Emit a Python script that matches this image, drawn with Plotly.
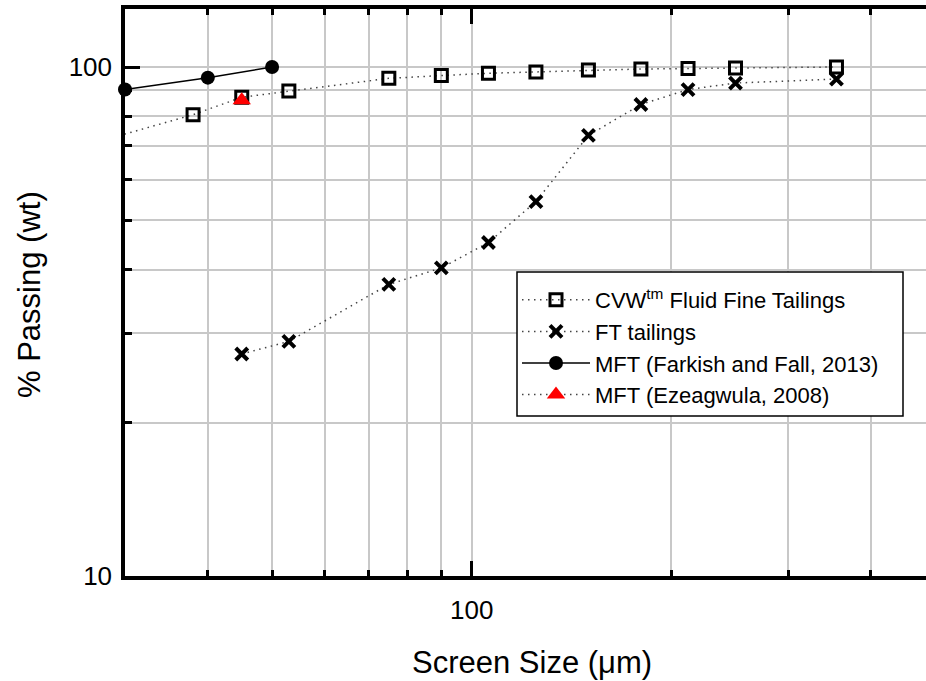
import math
import plotly.graph_objects as go

# Screen sizes (µm) and cumulative % passing by weight
cvw_size = [25, 38, 45, 53, 75, 90, 106, 125, 150, 180, 212, 250, 355]
cvw_pass = [69.0, 80.6, 87.2, 89.7, 95.0, 96.2, 97.2, 97.8, 98.6, 99.1, 99.3, 99.6, 100.0]

ft_size = [45, 53, 75, 90, 106, 125, 150, 180, 212, 250, 355]
ft_pass = [27.3, 28.9, 37.4, 40.3, 45.2, 54.4, 73.4, 84.4, 90.3, 93.0, 94.7]

farkish_size = [30, 40, 50]
farkish_pass = [90.3, 95.3, 100.0]

ezeagwula_size = [45]
ezeagwula_pass = [86.0]

x_minor_ticks = [40, 50, 60, 70, 80, 90, 200, 300, 400]
y_minor_ticks = [20, 30, 40, 50, 60, 70, 80, 90]

FONT = "Liberation Sans, Arial, sans-serif"
GRID = "#c8c8c8"
DOT = "1.5px,4.5px"

W, H = 926, 681
ML, MR, MT, MB = 125, 0, 9, 105
plot_w = W - ML - MR
plot_h = H - MT - MB
px_per_decade_x = 663.0

x_lo = math.log10(30)
x_hi = x_lo + plot_w / px_per_decade_x
y_lo, y_hi = 1.0, math.log10(130)


def px_to_paper_x(px):
    return (px - ML) / plot_w


def px_to_paper_y(py):
    return (H - MB - py) / plot_h


fig = go.Figure()

fig.add_trace(go.Scatter(
    x=cvw_size, y=cvw_pass, mode="lines+markers",
    name="CVW<sup>tm</sup> Fluid Fine Tailings",
    line=dict(color="#444444", width=1.5, dash=DOT),
    marker=dict(symbol="square-open", size=12, color="black",
                line=dict(width=3, color="black")),
))

fig.add_trace(go.Scatter(
    x=ft_size, y=ft_pass, mode="lines+markers",
    name="FT tailings",
    line=dict(color="#444444", width=1.5, dash=DOT),
    marker=dict(symbol="x-thin", size=12, color="black",
                line=dict(width=4, color="black")),
))

fig.add_trace(go.Scatter(
    x=farkish_size, y=farkish_pass, mode="lines+markers",
    name="MFT (Farkish and Fall, 2013)",
    line=dict(color="black", width=1.5),
    marker=dict(symbol="circle", size=14, color="black"),
    cliponaxis=False,
))

fig.add_trace(go.Scatter(
    x=ezeagwula_size, y=ezeagwula_pass, mode="lines+markers",
    name="MFT (Ezeagwula, 2008)",
    line=dict(color="#444444", width=1.5, dash=DOT),
    marker=dict(symbol="triangle-up", size=16, color="#ff0000"),
))

axis_common = dict(
    showline=True, linecolor="black", linewidth=3.5,
    ticks="inside", ticklen=15, tickwidth=2.5, tickcolor="black",
    showgrid=True, gridcolor=GRID, gridwidth=1.5,
    zeroline=False,
    tickfont=dict(family=FONT, size=26, color="black"),
)

fig.update_xaxes(
    type="log", range=[x_lo, x_hi],
    tickmode="array", tickvals=[100], ticktext=["100"],
    mirror="ticks", ticklabelstandoff=8,
    minor=dict(tickmode="array", tickvals=x_minor_ticks, ticks="inside",
               ticklen=6, tickwidth=3, tickcolor="black",
               showgrid=True, gridcolor=GRID, gridwidth=1.5),
    **axis_common,
)

fig.update_yaxes(
    type="log", range=[y_lo, y_hi],
    tickmode="array", tickvals=[10, 100], ticktext=["10", "100"],
    ticklabelstandoff=4,
    minor=dict(tickmode="array", tickvals=y_minor_ticks, ticks="inside",
               ticklen=7, tickwidth=3, tickcolor="black",
               showgrid=True, gridcolor=GRID, gridwidth=1.5),
    **axis_common,
)

# Legend frame
fig.add_shape(
    type="rect", xref="paper", yref="paper", layer="above",
    x0=px_to_paper_x(517), x1=px_to_paper_x(903),
    y0=px_to_paper_y(416), y1=px_to_paper_y(272),
    fillcolor="white", line=dict(color="black", width=1.5),
)

fig.add_annotation(
    text="Screen Size (\u03bcm)", xref="paper", yref="paper",
    x=px_to_paper_x(532), y=px_to_paper_y(662),
    xanchor="center", yanchor="middle", showarrow=False,
    font=dict(family=FONT, size=31, color="black"),
)
fig.add_annotation(
    text="% Passing (wt)", xref="paper", yref="paper",
    x=px_to_paper_x(29), y=px_to_paper_y(295),
    xanchor="center", yanchor="middle", textangle=-90, showarrow=False,
    font=dict(family=FONT, size=31, color="black"),
)

fig.update_layout(
    width=W, height=H,
    margin=dict(l=ML, r=MR, t=MT, b=MB, pad=0),
    paper_bgcolor="white", plot_bgcolor="white",
    font=dict(family=FONT, color="black"),
    legend=dict(
        x=px_to_paper_x(517), y=px_to_paper_y(279),
        xanchor="left", yanchor="top",
        bgcolor="rgba(0,0,0,0)", borderwidth=0,
        font=dict(family=FONT, size=22, color="black"),
        itemwidth=68, tracegroupgap=0,
    ),
)

fig.write_html("out.html")
